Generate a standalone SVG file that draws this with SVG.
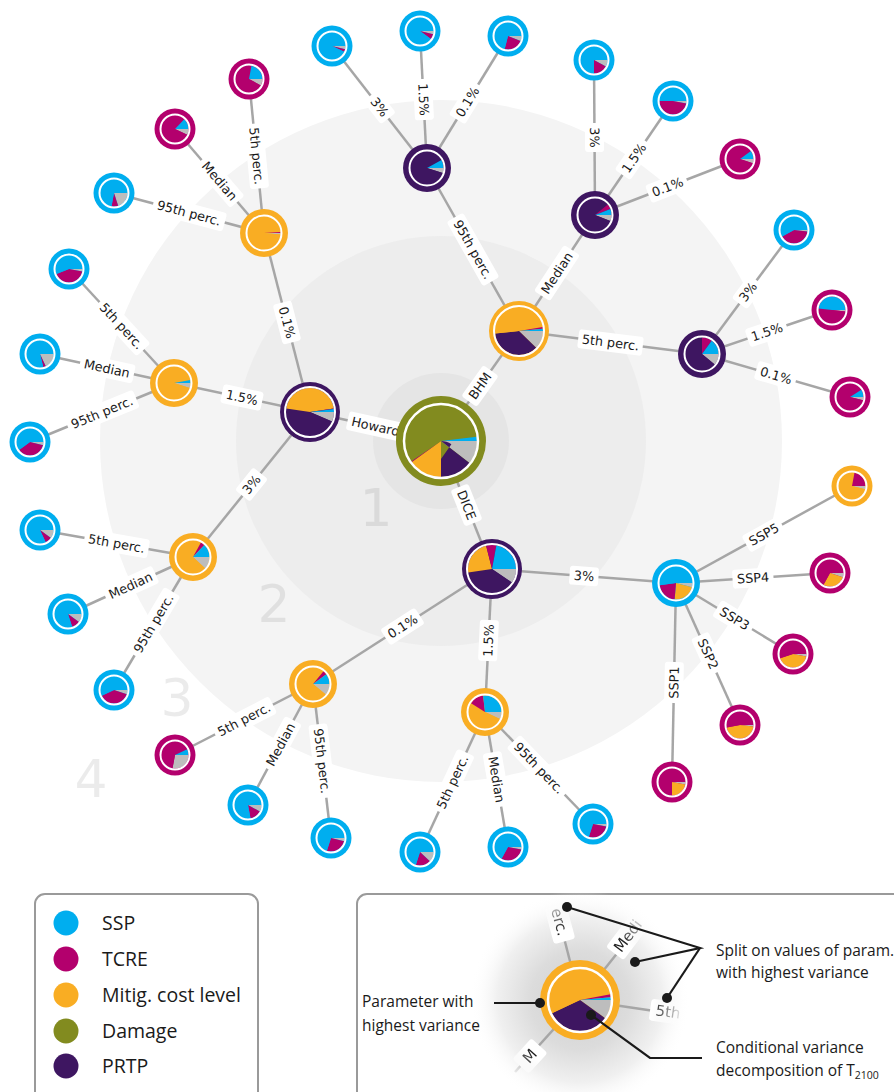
<svg xmlns="http://www.w3.org/2000/svg" width="894" height="1092" viewBox="0 0 894 1092">
<defs>
<style>
.e line{stroke:#a6a6a6;stroke-width:2.5}
.lb rect{fill:#fff}
.lb text{font-family:"DejaVu Sans",sans-serif;font-size:12.8px;fill:#1a1a1a;text-anchor:middle}
.pie circle{fill:none}
.cg{stroke:#bdbdbd}.cp{stroke:#3e1661}.cm{stroke:#f9ad23}.ct{stroke:#b3006d}.cd{stroke:#828b1f}.cs{stroke:#00aeef}
.ring{fill:none;stroke:#fff}
.num{font-family:"DejaVu Sans",sans-serif;font-size:52px;fill:#000;fill-opacity:0.08;text-anchor:middle}
.lg{font-family:"Open Sans",sans-serif;font-size:19.5px;fill:#1a1a1a}
.an{font-family:"Open Sans",sans-serif;font-size:15.5px;fill:#1a1a1a}
.al{stroke:#1a1a1a;stroke-width:2.2;fill:none}
</style>
<radialGradient id="glow" gradientUnits="userSpaceOnUse" cx="580" cy="1000" r="110">
<stop offset="0" stop-color="#cfcfcf"/><stop offset="0.45" stop-color="#dcdcdc"/><stop offset="0.75" stop-color="#f0f0f0"/><stop offset="1" stop-color="#ffffff" stop-opacity="0"/>
</radialGradient>
<radialGradient id="fadeg" gradientUnits="userSpaceOnUse" cx="580" cy="1000" r="105">
<stop offset="0" stop-color="#fff"/><stop offset="0.68" stop-color="#fff"/><stop offset="1" stop-color="#000"/>
</radialGradient>
<mask id="fade" maskUnits="userSpaceOnUse" x="440" y="880" width="300" height="220"><rect x="440" y="880" width="300" height="220" fill="url(#fadeg)"/></mask>
</defs>
<rect width="894" height="1092" fill="#fff"/>
<g id="background">
<circle cx="441" cy="441" r="341" fill="#f4f4f4"/>
<circle cx="441" cy="441" r="205" fill="#ededed"/>
<circle cx="441" cy="441" r="68" fill="#e5e5e5"/>
<text class="num" x="376" y="526">1</text>
<text class="num" x="274" y="622">2</text>
<text class="num" x="177" y="716">3</text>
<text class="num" x="91" y="797">4</text>
</g>
<g id="connectors" class="e">
<line x1="441" y1="441" x2="310" y2="412"/>
<line x1="441" y1="441" x2="519" y2="331"/>
<line x1="441" y1="441" x2="492" y2="569"/>
<line x1="310" y1="412" x2="264" y2="233"/>
<line x1="310" y1="412" x2="174" y2="383"/>
<line x1="310" y1="412" x2="193" y2="557"/>
<line x1="264" y1="233" x2="249" y2="79"/>
<line x1="264" y1="233" x2="175" y2="129"/>
<line x1="264" y1="233" x2="114" y2="193"/>
<line x1="174" y1="383" x2="69" y2="269"/>
<line x1="174" y1="383" x2="40" y2="354"/>
<line x1="174" y1="383" x2="30" y2="442"/>
<line x1="193" y1="557" x2="40" y2="530"/>
<line x1="193" y1="557" x2="68" y2="614"/>
<line x1="193" y1="557" x2="114" y2="690"/>
<line x1="519" y1="331" x2="427" y2="168"/>
<line x1="519" y1="331" x2="595" y2="215"/>
<line x1="519" y1="331" x2="702" y2="354"/>
<line x1="427" y1="168" x2="332" y2="46"/>
<line x1="427" y1="168" x2="420" y2="31"/>
<line x1="427" y1="168" x2="508" y2="36"/>
<line x1="595" y1="215" x2="594" y2="60"/>
<line x1="595" y1="215" x2="673" y2="101"/>
<line x1="595" y1="215" x2="740" y2="159"/>
<line x1="702" y1="354" x2="794" y2="230"/>
<line x1="702" y1="354" x2="832" y2="310"/>
<line x1="702" y1="354" x2="850" y2="397"/>
<line x1="492" y1="569" x2="676" y2="583"/>
<line x1="492" y1="569" x2="313" y2="684"/>
<line x1="492" y1="569" x2="485" y2="712"/>
<line x1="313" y1="684" x2="175" y2="755"/>
<line x1="313" y1="684" x2="248" y2="805"/>
<line x1="313" y1="684" x2="331" y2="838"/>
<line x1="485" y1="712" x2="420" y2="852"/>
<line x1="485" y1="712" x2="508" y2="847"/>
<line x1="485" y1="712" x2="593" y2="824"/>
<line x1="676" y1="583" x2="852" y2="486"/>
<line x1="676" y1="583" x2="830" y2="573"/>
<line x1="676" y1="583" x2="793" y2="654"/>
<line x1="676" y1="583" x2="740" y2="725"/>
<line x1="676" y1="583" x2="672" y2="782"/>
</g>
<g id="edge-labels" class="lb">
<g transform="translate(375.5,426.5) rotate(12.48)"><rect x="-28.5" y="-9.5" width="57" height="19" rx="3"/><text y="4.5">Howard</text></g>
<g transform="translate(480,386) rotate(-54.66)"><rect x="-19" y="-9.5" width="38" height="19" rx="3"/><text y="4.5">BHM</text></g>
<g transform="translate(466.5,505) rotate(68.28)"><rect x="-19.5" y="-9.5" width="39" height="19" rx="3"/><text y="4.5">DICE</text></g>
<g transform="translate(287,322.5) rotate(75.59)"><rect x="-20.5" y="-9.5" width="41" height="19" rx="3"/><text y="4.5">0.1%</text></g>
<g transform="translate(242,397.5) rotate(12.04)"><rect x="-20.5" y="-9.5" width="41" height="19" rx="3"/><text y="4.5">1.5%</text></g>
<g transform="translate(251.5,484.5) rotate(-51.1)"><rect x="-14.5" y="-9.5" width="29" height="19" rx="3"/><text y="4.5">3%</text></g>
<g transform="translate(256.5,156) rotate(84.44)"><rect x="-32.5" y="-9.5" width="65" height="19" rx="3"/><text y="4.5">5th perc.</text></g>
<g transform="translate(219.5,181) rotate(49.45)"><rect x="-27.5" y="-9.5" width="55" height="19" rx="3"/><text y="4.5">Median</text></g>
<g transform="translate(189,213) rotate(14.93)"><rect x="-37" y="-9.5" width="74" height="19" rx="3"/><text y="4.5">95th perc.</text></g>
<g transform="translate(121.5,326) rotate(47.36)"><rect x="-32.5" y="-9.5" width="65" height="19" rx="3"/><text y="4.5">5th perc.</text></g>
<g transform="translate(107,368.5) rotate(12.21)"><rect x="-27.5" y="-9.5" width="55" height="19" rx="3"/><text y="4.5">Median</text></g>
<g transform="translate(102,412.5) rotate(-22.28)"><rect x="-37" y="-9.5" width="74" height="19" rx="3"/><text y="4.5">95th perc.</text></g>
<g transform="translate(116.5,543.5) rotate(10.01)"><rect x="-32.5" y="-9.5" width="65" height="19" rx="3"/><text y="4.5">5th perc.</text></g>
<g transform="translate(130.5,585.5) rotate(-24.51)"><rect x="-27.5" y="-9.5" width="55" height="19" rx="3"/><text y="4.5">Median</text></g>
<g transform="translate(153.5,623.5) rotate(-59.29)"><rect x="-37" y="-9.5" width="74" height="19" rx="3"/><text y="4.5">95th perc.</text></g>
<g transform="translate(473,249.5) rotate(60.56)"><rect x="-37" y="-9.5" width="74" height="19" rx="3"/><text y="4.5">95th perc.</text></g>
<g transform="translate(557,273) rotate(-56.77)"><rect x="-27.5" y="-9.5" width="55" height="19" rx="3"/><text y="4.5">Median</text></g>
<g transform="translate(610.5,342.5) rotate(7.16)"><rect x="-32.5" y="-9.5" width="65" height="19" rx="3"/><text y="4.5">5th perc.</text></g>
<g transform="translate(379.5,107) rotate(52.09)"><rect x="-14.5" y="-9.5" width="29" height="19" rx="3"/><text y="4.5">3%</text></g>
<g transform="translate(423.5,99.5) rotate(87.08)"><rect x="-20.5" y="-9.5" width="41" height="19" rx="3"/><text y="4.5">1.5%</text></g>
<g transform="translate(467.5,102) rotate(-58.46)"><rect x="-20.5" y="-9.5" width="41" height="19" rx="3"/><text y="4.5">0.1%</text></g>
<g transform="translate(594.5,137.5) rotate(89.63)"><rect x="-14.5" y="-9.5" width="29" height="19" rx="3"/><text y="4.5">3%</text></g>
<g transform="translate(634,158) rotate(-55.62)"><rect x="-20.5" y="-9.5" width="41" height="19" rx="3"/><text y="4.5">1.5%</text></g>
<g transform="translate(667.5,187) rotate(-21.12)"><rect x="-20.5" y="-9.5" width="41" height="19" rx="3"/><text y="4.5">0.1%</text></g>
<g transform="translate(748,292) rotate(-53.43)"><rect x="-14.5" y="-9.5" width="29" height="19" rx="3"/><text y="4.5">3%</text></g>
<g transform="translate(767,332) rotate(-18.7)"><rect x="-20.5" y="-9.5" width="41" height="19" rx="3"/><text y="4.5">1.5%</text></g>
<g transform="translate(776,375.5) rotate(16.2)"><rect x="-20.5" y="-9.5" width="41" height="19" rx="3"/><text y="4.5">0.1%</text></g>
<g transform="translate(584,576) rotate(4.35)"><rect x="-14.5" y="-9.5" width="29" height="19" rx="3"/><text y="4.5">3%</text></g>
<g transform="translate(402.5,626.5) rotate(-32.72)"><rect x="-20.5" y="-9.5" width="41" height="19" rx="3"/><text y="4.5">0.1%</text></g>
<g transform="translate(488.5,640.5) rotate(-87.2)"><rect x="-20.5" y="-9.5" width="41" height="19" rx="3"/><text y="4.5">1.5%</text></g>
<g transform="translate(244,719.5) rotate(-27.23)"><rect x="-32.5" y="-9.5" width="65" height="19" rx="3"/><text y="4.5">5th perc.</text></g>
<g transform="translate(280.5,744.5) rotate(-61.76)"><rect x="-27.5" y="-9.5" width="55" height="19" rx="3"/><text y="4.5">Median</text></g>
<g transform="translate(322,761) rotate(83.33)"><rect x="-37" y="-9.5" width="74" height="19" rx="3"/><text y="4.5">95th perc.</text></g>
<g transform="translate(452.5,782) rotate(-65.1)"><rect x="-32.5" y="-9.5" width="65" height="19" rx="3"/><text y="4.5">5th perc.</text></g>
<g transform="translate(496.5,779.5) rotate(80.33)"><rect x="-27.5" y="-9.5" width="55" height="19" rx="3"/><text y="4.5">Median</text></g>
<g transform="translate(539,768) rotate(46.04)"><rect x="-37" y="-9.5" width="74" height="19" rx="3"/><text y="4.5">95th perc.</text></g>
<g transform="translate(764,534.5) rotate(-28.86)"><rect x="-20.5" y="-9.5" width="41" height="19" rx="3"/><text y="4.5">SSP5</text></g>
<g transform="translate(753,578) rotate(-3.72)"><rect x="-20.5" y="-9.5" width="41" height="19" rx="3"/><text y="4.5">SSP4</text></g>
<g transform="translate(734.5,618.5) rotate(31.25)"><rect x="-20.5" y="-9.5" width="41" height="19" rx="3"/><text y="4.5">SSP3</text></g>
<g transform="translate(708,654) rotate(65.74)"><rect x="-20.5" y="-9.5" width="41" height="19" rx="3"/><text y="4.5">SSP2</text></g>
<g transform="translate(674,682.5) rotate(-88.85)"><rect x="-20.5" y="-9.5" width="41" height="19" rx="3"/><text y="4.5">SSP1</text></g>
</g>

<g id="node-root" transform="translate(441,441)"><circle r="45" fill="#828b1f"/><g class="pie" stroke-width="36">
<circle r="18" pathLength="100" class="cg" stroke-dasharray="10.5 100"/>
<circle r="18" pathLength="100" class="cp" stroke-dasharray="14.5 100" stroke-dashoffset="-10.5"/>
<circle r="18" pathLength="100" class="cm" stroke-dasharray="15 100" stroke-dashoffset="-25"/>
<circle r="18" pathLength="100" class="ct" stroke-dasharray="0.5 100" stroke-dashoffset="-40"/>
<circle r="18" pathLength="100" class="cd" stroke-dasharray="57.5 100" stroke-dashoffset="-40.5"/>
<circle r="18" pathLength="100" class="cs" stroke-dasharray="2 100" stroke-dashoffset="-98"/>
</g><circle r="37" class="ring" stroke-width="2.5"/></g>

<g id="node-howard" transform="translate(310,412)"><circle r="30" fill="#3e1661"/><g class="pie" stroke-width="24">
<circle r="12" pathLength="100" class="cg" stroke-dasharray="6.5 100"/>
<circle r="12" pathLength="100" class="cp" stroke-dasharray="46 100" stroke-dashoffset="-6.5"/>
<circle r="12" pathLength="100" class="cm" stroke-dasharray="45 100" stroke-dashoffset="-52.5"/>
<circle r="12" pathLength="100" class="ct" stroke-dasharray="0.5 100" stroke-dashoffset="-97.5"/>
<circle r="12" pathLength="100" class="cs" stroke-dasharray="2 100" stroke-dashoffset="-98"/>
</g><circle r="25" class="ring" stroke-width="2"/></g>

<g id="node-bhm" transform="translate(519,331)"><circle r="30" fill="#f9ad23"/><g class="pie" stroke-width="24">
<circle r="12" pathLength="100" class="cg" stroke-dasharray="12.3 100"/>
<circle r="12" pathLength="100" class="cp" stroke-dasharray="36 100" stroke-dashoffset="-12.3"/>
<circle r="12" pathLength="100" class="cm" stroke-dasharray="49 100" stroke-dashoffset="-48.3"/>
<circle r="12" pathLength="100" class="ct" stroke-dasharray="1.2 100" stroke-dashoffset="-97.3"/>
<circle r="12" pathLength="100" class="cs" stroke-dasharray="1.5 100" stroke-dashoffset="-98.5"/>
</g><circle r="25" class="ring" stroke-width="2"/></g>

<g id="node-dice" transform="translate(492,569)"><circle r="30" fill="#3e1661"/><g class="pie" stroke-width="24">
<circle r="12" pathLength="100" class="cg" stroke-dasharray="9.5 100"/>
<circle r="12" pathLength="100" class="cp" stroke-dasharray="38 100" stroke-dashoffset="-9.5"/>
<circle r="12" pathLength="100" class="cm" stroke-dasharray="23.5 100" stroke-dashoffset="-47.5"/>
<circle r="12" pathLength="100" class="ct" stroke-dasharray="7 100" stroke-dashoffset="-71"/>
<circle r="12" pathLength="100" class="cs" stroke-dasharray="22 100" stroke-dashoffset="-78"/>
</g><circle r="25" class="ring" stroke-width="2"/></g>

<g id="node-howard-01" transform="translate(264,233)"><circle r="24" fill="#f9ad23"/><g class="pie" stroke-width="16.5">
<circle r="8.25" pathLength="100" class="cg" stroke-dasharray="1.5 100"/>
<circle r="8.25" pathLength="100" class="cm" stroke-dasharray="97.5 100" stroke-dashoffset="-1.5"/>
<circle r="8.25" pathLength="100" class="ct" stroke-dasharray="1 100" stroke-dashoffset="-99"/>
</g><circle r="17.5" class="ring" stroke-width="2"/></g>

<g id="node-howard-15" transform="translate(174,383)"><circle r="24" fill="#f9ad23"/><g class="pie" stroke-width="16.5">
<circle r="8.25" pathLength="100" class="cg" stroke-dasharray="5 100"/>
<circle r="8.25" pathLength="100" class="cm" stroke-dasharray="92 100" stroke-dashoffset="-5"/>
<circle r="8.25" pathLength="100" class="cs" stroke-dasharray="3 100" stroke-dashoffset="-97"/>
</g><circle r="17.5" class="ring" stroke-width="2"/></g>

<g id="node-howard-3" transform="translate(193,557)"><circle r="24" fill="#f9ad23"/><g class="pie" stroke-width="16.5">
<circle r="8.25" pathLength="100" class="cg" stroke-dasharray="12 100"/>
<circle r="8.25" pathLength="100" class="cm" stroke-dasharray="71 100" stroke-dashoffset="-12"/>
<circle r="8.25" pathLength="100" class="ct" stroke-dasharray="4 100" stroke-dashoffset="-83"/>
<circle r="8.25" pathLength="100" class="cs" stroke-dasharray="13 100" stroke-dashoffset="-87"/>
</g><circle r="17.5" class="ring" stroke-width="2"/></g>

<g id="node-bhm-95" transform="translate(427,168)"><circle r="24" fill="#3e1661"/><g class="pie" stroke-width="16.5">
<circle r="8.25" pathLength="100" class="cg" stroke-dasharray="5 100"/>
<circle r="8.25" pathLength="100" class="cp" stroke-dasharray="87 100" stroke-dashoffset="-5"/>
<circle r="8.25" pathLength="100" class="cs" stroke-dasharray="8 100" stroke-dashoffset="-92"/>
</g><circle r="17.5" class="ring" stroke-width="2"/></g>

<g id="node-bhm-med" transform="translate(595,215)"><circle r="24" fill="#3e1661"/><g class="pie" stroke-width="16.5">
<circle r="8.25" pathLength="100" class="cg" stroke-dasharray="6 100"/>
<circle r="8.25" pathLength="100" class="cp" stroke-dasharray="83 100" stroke-dashoffset="-6"/>
<circle r="8.25" pathLength="100" class="ct" stroke-dasharray="5 100" stroke-dashoffset="-89"/>
<circle r="8.25" pathLength="100" class="cs" stroke-dasharray="6 100" stroke-dashoffset="-94"/>
</g><circle r="17.5" class="ring" stroke-width="2"/></g>

<g id="node-bhm-5" transform="translate(702,354)"><circle r="24" fill="#3e1661"/><g class="pie" stroke-width="16.5">
<circle r="8.25" pathLength="100" class="cg" stroke-dasharray="11 100"/>
<circle r="8.25" pathLength="100" class="cp" stroke-dasharray="64 100" stroke-dashoffset="-11"/>
<circle r="8.25" pathLength="100" class="ct" stroke-dasharray="10 100" stroke-dashoffset="-75"/>
<circle r="8.25" pathLength="100" class="cs" stroke-dasharray="15 100" stroke-dashoffset="-85"/>
</g><circle r="17.5" class="ring" stroke-width="2"/></g>

<g id="node-dice-3" transform="translate(676,583)"><circle r="24" fill="#00aeef"/><g class="pie" stroke-width="16.5">
<circle r="8.25" pathLength="100" class="cg" stroke-dasharray="4.2 100"/>
<circle r="8.25" pathLength="100" class="cm" stroke-dasharray="22.2 100" stroke-dashoffset="-4.2"/>
<circle r="8.25" pathLength="100" class="ct" stroke-dasharray="21.4 100" stroke-dashoffset="-26.4"/>
<circle r="8.25" pathLength="100" class="cs" stroke-dasharray="52.2 100" stroke-dashoffset="-47.8"/>
</g><circle r="17.5" class="ring" stroke-width="2"/></g>

<g id="node-dice-01" transform="translate(313,684)"><circle r="24" fill="#f9ad23"/><g class="pie" stroke-width="16.5">
<circle r="8.25" pathLength="100" class="cg" stroke-dasharray="11 100"/>
<circle r="8.25" pathLength="100" class="cm" stroke-dasharray="75 100" stroke-dashoffset="-11"/>
<circle r="8.25" pathLength="100" class="ct" stroke-dasharray="4 100" stroke-dashoffset="-86"/>
<circle r="8.25" pathLength="100" class="cs" stroke-dasharray="10 100" stroke-dashoffset="-90"/>
</g><circle r="17.5" class="ring" stroke-width="2"/></g>

<g id="node-dice-15" transform="translate(485,712)"><circle r="24" fill="#f9ad23"/><g class="pie" stroke-width="16.5">
<circle r="8.25" pathLength="100" class="cg" stroke-dasharray="7 100"/>
<circle r="8.25" pathLength="100" class="cm" stroke-dasharray="52 100" stroke-dashoffset="-7"/>
<circle r="8.25" pathLength="100" class="ct" stroke-dasharray="14 100" stroke-dashoffset="-59"/>
<circle r="8.25" pathLength="100" class="cs" stroke-dasharray="27 100" stroke-dashoffset="-73"/>
</g><circle r="17.5" class="ring" stroke-width="2"/></g>

<g id="leaf-h01-5th" transform="translate(249,79)"><circle r="20.5" fill="#b3006d"/><g class="pie" stroke-width="13.5">
<circle r="6.75" pathLength="100" class="cg" stroke-dasharray="8 100"/>
<circle r="6.75" pathLength="100" class="ct" stroke-dasharray="70 100" stroke-dashoffset="-8"/>
<circle r="6.75" pathLength="100" class="cs" stroke-dasharray="22 100" stroke-dashoffset="-78"/>
</g><circle r="14.5" class="ring" stroke-width="2"/></g>

<g id="leaf-h01-med" transform="translate(175,129)"><circle r="20.5" fill="#b3006d"/><g class="pie" stroke-width="13.5">
<circle r="6.75" pathLength="100" class="cg" stroke-dasharray="7 100"/>
<circle r="6.75" pathLength="100" class="ct" stroke-dasharray="80 100" stroke-dashoffset="-7"/>
<circle r="6.75" pathLength="100" class="cs" stroke-dasharray="13 100" stroke-dashoffset="-87"/>
</g><circle r="14.5" class="ring" stroke-width="2"/></g>

<g id="leaf-h01-95th" transform="translate(114,193)"><circle r="20.5" fill="#00aeef"/><g class="pie" stroke-width="13.5">
<circle r="6.75" pathLength="100" class="cg" stroke-dasharray="20 100"/>
<circle r="6.75" pathLength="100" class="ct" stroke-dasharray="8 100" stroke-dashoffset="-20"/>
<circle r="6.75" pathLength="100" class="cs" stroke-dasharray="72 100" stroke-dashoffset="-28"/>
</g><circle r="14.5" class="ring" stroke-width="2"/></g>

<g id="leaf-h15-5th" transform="translate(69,269)"><circle r="20.5" fill="#00aeef"/><g class="pie" stroke-width="13.5">
<circle r="6.75" pathLength="100" class="cg" stroke-dasharray="3 100"/>
<circle r="6.75" pathLength="100" class="ct" stroke-dasharray="41 100" stroke-dashoffset="-3"/>
<circle r="6.75" pathLength="100" class="cs" stroke-dasharray="56 100" stroke-dashoffset="-44"/>
</g><circle r="14.5" class="ring" stroke-width="2"/></g>

<g id="leaf-h15-med" transform="translate(40,354)"><circle r="20.5" fill="#00aeef"/><g class="pie" stroke-width="13.5">
<circle r="6.75" pathLength="100" class="cg" stroke-dasharray="18 100"/>
<circle r="6.75" pathLength="100" class="ct" stroke-dasharray="3 100" stroke-dashoffset="-18"/>
<circle r="6.75" pathLength="100" class="cs" stroke-dasharray="79 100" stroke-dashoffset="-21"/>
</g><circle r="14.5" class="ring" stroke-width="2"/></g>

<g id="leaf-h15-95th" transform="translate(30,442)"><circle r="20.5" fill="#00aeef"/><g class="pie" stroke-width="13.5">
<circle r="6.75" pathLength="100" class="cg" stroke-dasharray="4 100"/>
<circle r="6.75" pathLength="100" class="ct" stroke-dasharray="36 100" stroke-dashoffset="-4"/>
<circle r="6.75" pathLength="100" class="cs" stroke-dasharray="60 100" stroke-dashoffset="-40"/>
</g><circle r="14.5" class="ring" stroke-width="2"/></g>

<g id="leaf-h3-5th" transform="translate(40,530)"><circle r="20.5" fill="#00aeef"/><g class="pie" stroke-width="13.5">
<circle r="6.75" pathLength="100" class="cg" stroke-dasharray="10 100"/>
<circle r="6.75" pathLength="100" class="ct" stroke-dasharray="8 100" stroke-dashoffset="-10"/>
<circle r="6.75" pathLength="100" class="cs" stroke-dasharray="82 100" stroke-dashoffset="-18"/>
</g><circle r="14.5" class="ring" stroke-width="2"/></g>

<g id="leaf-h3-med" transform="translate(68,614)"><circle r="20.5" fill="#00aeef"/><g class="pie" stroke-width="13.5">
<circle r="6.75" pathLength="100" class="cg" stroke-dasharray="10 100"/>
<circle r="6.75" pathLength="100" class="ct" stroke-dasharray="10 100" stroke-dashoffset="-10"/>
<circle r="6.75" pathLength="100" class="cs" stroke-dasharray="80 100" stroke-dashoffset="-20"/>
</g><circle r="14.5" class="ring" stroke-width="2"/></g>

<g id="leaf-h3-95th" transform="translate(114,690)"><circle r="20.5" fill="#00aeef"/><g class="pie" stroke-width="13.5">
<circle r="6.75" pathLength="100" class="cg" stroke-dasharray="5 100"/>
<circle r="6.75" pathLength="100" class="ct" stroke-dasharray="38 100" stroke-dashoffset="-5"/>
<circle r="6.75" pathLength="100" class="cs" stroke-dasharray="57 100" stroke-dashoffset="-43"/>
</g><circle r="14.5" class="ring" stroke-width="2"/></g>

<g id="leaf-b95-3" transform="translate(332,46)"><circle r="20.5" fill="#00aeef"/><g class="pie" stroke-width="13.5">
<circle r="6.75" pathLength="100" class="cg" stroke-dasharray="4 100"/>
<circle r="6.75" pathLength="100" class="ct" stroke-dasharray="3 100" stroke-dashoffset="-4"/>
<circle r="6.75" pathLength="100" class="cs" stroke-dasharray="93 100" stroke-dashoffset="-7"/>
</g><circle r="14.5" class="ring" stroke-width="2"/></g>

<g id="leaf-b95-15" transform="translate(420,31)"><circle r="20.5" fill="#00aeef"/><g class="pie" stroke-width="13.5">
<circle r="6.75" pathLength="100" class="cg" stroke-dasharray="4 100"/>
<circle r="6.75" pathLength="100" class="ct" stroke-dasharray="6 100" stroke-dashoffset="-4"/>
<circle r="6.75" pathLength="100" class="cs" stroke-dasharray="90 100" stroke-dashoffset="-10"/>
</g><circle r="14.5" class="ring" stroke-width="2"/></g>

<g id="leaf-b95-01" transform="translate(508,36)"><circle r="20.5" fill="#00aeef"/><g class="pie" stroke-width="13.5">
<circle r="6.75" pathLength="100" class="cg" stroke-dasharray="6 100"/>
<circle r="6.75" pathLength="100" class="ct" stroke-dasharray="23 100" stroke-dashoffset="-6"/>
<circle r="6.75" pathLength="100" class="cs" stroke-dasharray="71 100" stroke-dashoffset="-29"/>
</g><circle r="14.5" class="ring" stroke-width="2"/></g>

<g id="leaf-bmed-3" transform="translate(594,60)"><circle r="20.5" fill="#00aeef"/><g class="pie" stroke-width="13.5">
<circle r="6.75" pathLength="100" class="cg" stroke-dasharray="8 100"/>
<circle r="6.75" pathLength="100" class="ct" stroke-dasharray="17 100" stroke-dashoffset="-8"/>
<circle r="6.75" pathLength="100" class="cs" stroke-dasharray="75 100" stroke-dashoffset="-25"/>
</g><circle r="14.5" class="ring" stroke-width="2"/></g>

<g id="leaf-bmed-15" transform="translate(673,101)"><circle r="20.5" fill="#00aeef"/><g class="pie" stroke-width="13.5">
<circle r="6.75" pathLength="100" class="cg" stroke-dasharray="3 100"/>
<circle r="6.75" pathLength="100" class="ct" stroke-dasharray="47 100" stroke-dashoffset="-3"/>
<circle r="6.75" pathLength="100" class="cs" stroke-dasharray="50 100" stroke-dashoffset="-50"/>
</g><circle r="14.5" class="ring" stroke-width="2"/></g>

<g id="leaf-bmed-01" transform="translate(740,159)"><circle r="20.5" fill="#b3006d"/><g class="pie" stroke-width="13.5">
<circle r="6.75" pathLength="100" class="cg" stroke-dasharray="5 100"/>
<circle r="6.75" pathLength="100" class="ct" stroke-dasharray="85 100" stroke-dashoffset="-5"/>
<circle r="6.75" pathLength="100" class="cs" stroke-dasharray="10 100" stroke-dashoffset="-90"/>
</g><circle r="14.5" class="ring" stroke-width="2"/></g>

<g id="leaf-b5-3" transform="translate(794,230)"><circle r="20.5" fill="#00aeef"/><g class="pie" stroke-width="13.5">
<circle r="6.75" pathLength="100" class="cg" stroke-dasharray="2 100"/>
<circle r="6.75" pathLength="100" class="ct" stroke-dasharray="40 100" stroke-dashoffset="-2"/>
<circle r="6.75" pathLength="100" class="cs" stroke-dasharray="58 100" stroke-dashoffset="-42"/>
</g><circle r="14.5" class="ring" stroke-width="2"/></g>

<g id="leaf-b5-15" transform="translate(832,310)"><circle r="20.5" fill="#b3006d"/><g class="pie" stroke-width="13.5">
<circle r="6.75" pathLength="100" class="cg" stroke-dasharray="2 100"/>
<circle r="6.75" pathLength="100" class="ct" stroke-dasharray="50 100" stroke-dashoffset="-2"/>
<circle r="6.75" pathLength="100" class="cs" stroke-dasharray="48 100" stroke-dashoffset="-52"/>
</g><circle r="14.5" class="ring" stroke-width="2"/></g>

<g id="leaf-b5-01" transform="translate(850,397)"><circle r="20.5" fill="#b3006d"/><g class="pie" stroke-width="13.5">
<circle r="6.75" pathLength="100" class="cg" stroke-dasharray="4 100"/>
<circle r="6.75" pathLength="100" class="ct" stroke-dasharray="87 100" stroke-dashoffset="-4"/>
<circle r="6.75" pathLength="100" class="cs" stroke-dasharray="9 100" stroke-dashoffset="-91"/>
</g><circle r="14.5" class="ring" stroke-width="2"/></g>

<g id="leaf-d01-5th" transform="translate(175,755)"><circle r="20.5" fill="#b3006d"/><g class="pie" stroke-width="13.5">
<circle r="6.75" pathLength="100" class="cg" stroke-dasharray="28 100"/>
<circle r="6.75" pathLength="100" class="ct" stroke-dasharray="65 100" stroke-dashoffset="-28"/>
<circle r="6.75" pathLength="100" class="cs" stroke-dasharray="7 100" stroke-dashoffset="-93"/>
</g><circle r="14.5" class="ring" stroke-width="2"/></g>

<g id="leaf-d01-med" transform="translate(248,805)"><circle r="20.5" fill="#00aeef"/><g class="pie" stroke-width="13.5">
<circle r="6.75" pathLength="100" class="cg" stroke-dasharray="8 100"/>
<circle r="6.75" pathLength="100" class="ct" stroke-dasharray="14 100" stroke-dashoffset="-8"/>
<circle r="6.75" pathLength="100" class="cs" stroke-dasharray="78 100" stroke-dashoffset="-22"/>
</g><circle r="14.5" class="ring" stroke-width="2"/></g>

<g id="leaf-d01-95th" transform="translate(331,838)"><circle r="20.5" fill="#00aeef"/><g class="pie" stroke-width="13.5">
<circle r="6.75" pathLength="100" class="cg" stroke-dasharray="4 100"/>
<circle r="6.75" pathLength="100" class="ct" stroke-dasharray="26 100" stroke-dashoffset="-4"/>
<circle r="6.75" pathLength="100" class="cs" stroke-dasharray="70 100" stroke-dashoffset="-30"/>
</g><circle r="14.5" class="ring" stroke-width="2"/></g>

<g id="leaf-d15-5th" transform="translate(420,852)"><circle r="20.5" fill="#00aeef"/><g class="pie" stroke-width="13.5">
<circle r="6.75" pathLength="100" class="cg" stroke-dasharray="12 100"/>
<circle r="6.75" pathLength="100" class="ct" stroke-dasharray="18 100" stroke-dashoffset="-12"/>
<circle r="6.75" pathLength="100" class="cs" stroke-dasharray="70 100" stroke-dashoffset="-30"/>
</g><circle r="14.5" class="ring" stroke-width="2"/></g>

<g id="leaf-d15-med" transform="translate(508,847)"><circle r="20.5" fill="#00aeef"/><g class="pie" stroke-width="13.5">
<circle r="6.75" pathLength="100" class="cg" stroke-dasharray="3 100"/>
<circle r="6.75" pathLength="100" class="ct" stroke-dasharray="30 100" stroke-dashoffset="-3"/>
<circle r="6.75" pathLength="100" class="cs" stroke-dasharray="67 100" stroke-dashoffset="-33"/>
</g><circle r="14.5" class="ring" stroke-width="2"/></g>

<g id="leaf-d15-95th" transform="translate(593,824)"><circle r="20.5" fill="#00aeef"/><g class="pie" stroke-width="13.5">
<circle r="6.75" pathLength="100" class="cg" stroke-dasharray="3 100"/>
<circle r="6.75" pathLength="100" class="ct" stroke-dasharray="27 100" stroke-dashoffset="-3"/>
<circle r="6.75" pathLength="100" class="cs" stroke-dasharray="70 100" stroke-dashoffset="-30"/>
</g><circle r="14.5" class="ring" stroke-width="2"/></g>

<g id="leaf-ssp5" transform="translate(852,486)"><circle r="20.5" fill="#f9ad23"/><g class="pie" stroke-width="13.5">
<circle r="6.75" pathLength="100" class="cg" stroke-dasharray="4 100"/>
<circle r="6.75" pathLength="100" class="cm" stroke-dasharray="74 100" stroke-dashoffset="-4"/>
<circle r="6.75" pathLength="100" class="ct" stroke-dasharray="22 100" stroke-dashoffset="-78"/>
</g><circle r="14.5" class="ring" stroke-width="2"/></g>

<g id="leaf-ssp4" transform="translate(830,573)"><circle r="20.5" fill="#b3006d"/><g class="pie" stroke-width="13.5">
<circle r="6.75" pathLength="100" class="cg" stroke-dasharray="5 100"/>
<circle r="6.75" pathLength="100" class="cm" stroke-dasharray="28 100" stroke-dashoffset="-5"/>
<circle r="6.75" pathLength="100" class="ct" stroke-dasharray="67 100" stroke-dashoffset="-33"/>
</g><circle r="14.5" class="ring" stroke-width="2"/></g>

<g id="leaf-ssp3" transform="translate(793,654)"><circle r="20.5" fill="#b3006d"/><g class="pie" stroke-width="13.5">
<circle r="6.75" pathLength="100" class="cg" stroke-dasharray="3 100"/>
<circle r="6.75" pathLength="100" class="cm" stroke-dasharray="42 100" stroke-dashoffset="-3"/>
<circle r="6.75" pathLength="100" class="ct" stroke-dasharray="55 100" stroke-dashoffset="-45"/>
</g><circle r="14.5" class="ring" stroke-width="2"/></g>

<g id="leaf-ssp2" transform="translate(740,725)"><circle r="20.5" fill="#b3006d"/><g class="pie" stroke-width="13.5">
<circle r="6.75" pathLength="100" class="cg" stroke-dasharray="2 100"/>
<circle r="6.75" pathLength="100" class="cm" stroke-dasharray="45 100" stroke-dashoffset="-2"/>
<circle r="6.75" pathLength="100" class="ct" stroke-dasharray="53 100" stroke-dashoffset="-47"/>
</g><circle r="14.5" class="ring" stroke-width="2"/></g>

<g id="leaf-ssp1" transform="translate(672,782)"><circle r="20.5" fill="#b3006d"/><g class="pie" stroke-width="13.5">
<circle r="6.75" pathLength="100" class="cg" stroke-dasharray="3 100"/>
<circle r="6.75" pathLength="100" class="cm" stroke-dasharray="22 100" stroke-dashoffset="-3"/>
<circle r="6.75" pathLength="100" class="ct" stroke-dasharray="75 100" stroke-dashoffset="-25"/>
</g><circle r="14.5" class="ring" stroke-width="2"/></g>

<g id="legend-colours">
<rect x="35" y="894" width="223" height="215" rx="10" fill="#fff" stroke="#9a9a9a" stroke-width="2"/>
<circle cx="66" cy="923" r="12.5" fill="#00aeef"/><text class="lg" x="102" y="930">SSP</text>
<circle cx="66" cy="959" r="12.5" fill="#b3006d"/><text class="lg" x="102" y="966">TCRE</text>
<circle cx="66" cy="995" r="12.5" fill="#f9ad23"/><text class="lg" x="102" y="1002">Mitig. cost level</text>
<circle cx="66" cy="1031" r="12.5" fill="#828b1f"/><text class="lg" x="102" y="1038">Damage</text>
<circle cx="66" cy="1066" r="12.5" fill="#3e1661"/><text class="lg" x="102" y="1073">PRTP</text>
</g>

<g id="legend-explain">
<rect x="357" y="894" width="560" height="215" rx="10" fill="#fff" stroke="#9a9a9a" stroke-width="2"/>
<circle cx="580" cy="1000" r="110" fill="url(#glow)"/>
<g mask="url(#fade)">
<g class="e"><line x1="580" y1="1000" x2="555" y2="903"/><line x1="580" y1="1000" x2="642" y2="922"/><line x1="580" y1="1000" x2="695" y2="1017"/><line x1="580" y1="1000" x2="515" y2="1072"/></g>
<g class="lb">
<g transform="translate(559.5,922) rotate(75.1)"><rect x="-20" y="-11" width="40" height="22" rx="3"/><text y="5" style="font-size:15px">erc.</text></g>
<g transform="translate(628,936) rotate(-53.1)"><rect x="-22" y="-11" width="44" height="22" rx="3"/><text y="5" style="font-size:15px">Medi</text></g>
<g transform="translate(668,1012) rotate(8.1)"><rect x="-18" y="-11" width="36" height="22" rx="3"/><text y="5" style="font-size:15px">5th</text></g>
<g transform="translate(530,1056) rotate(-47.7)"><rect x="-14" y="-11" width="28" height="22" rx="3"/><text y="5" style="font-size:15px">M</text></g>
</g>
</g>
<g id="legend-node" transform="translate(580,1000)"><circle r="40" fill="#f9ad23"/><g class="pie" stroke-width="31">
<circle r="15.5" pathLength="100" class="cg" stroke-dasharray="10 100"/>
<circle r="15.5" pathLength="100" class="cp" stroke-dasharray="33 100" stroke-dashoffset="-10"/>
<circle r="15.5" pathLength="100" class="cm" stroke-dasharray="54 100" stroke-dashoffset="-43"/>
<circle r="15.5" pathLength="100" class="ct" stroke-dasharray="1.5 100" stroke-dashoffset="-97"/>
<circle r="15.5" pathLength="100" class="cs" stroke-dasharray="1.5 100" stroke-dashoffset="-98.5"/>
</g><circle r="32" class="ring" stroke-width="2.5"/></g>
<g id="annotations">
<polyline class="al" points="567,907 700,948 635,962"/>
<line class="al" x1="700" y1="948" x2="667" y2="998"/>
<line class="al" x1="494" y1="1003" x2="540" y2="1003"/>
<polyline class="al" points="591,1015 650,1058 702,1058"/>
<circle cx="567" cy="907" r="5" fill="#1a1a1a"/>
<circle cx="635" cy="962" r="5" fill="#1a1a1a"/>
<circle cx="667" cy="998" r="5" fill="#1a1a1a"/>
<circle cx="540" cy="1003" r="5" fill="#1a1a1a"/>
<circle cx="591" cy="1015" r="5" fill="#1a1a1a"/>
<text class="an" x="716" y="956">Split on values of param.</text>
<text class="an" x="716" y="978">with highest variance</text>
<text class="an" x="362" y="1007">Parameter with</text>
<text class="an" x="362" y="1031">highest variance</text>
<text class="an" x="716" y="1053">Conditional variance</text>
<text class="an" x="716" y="1076">decomposition of T<tspan font-size="10.5" dy="3">2100</tspan></text>
</g>
</g>
</svg>
